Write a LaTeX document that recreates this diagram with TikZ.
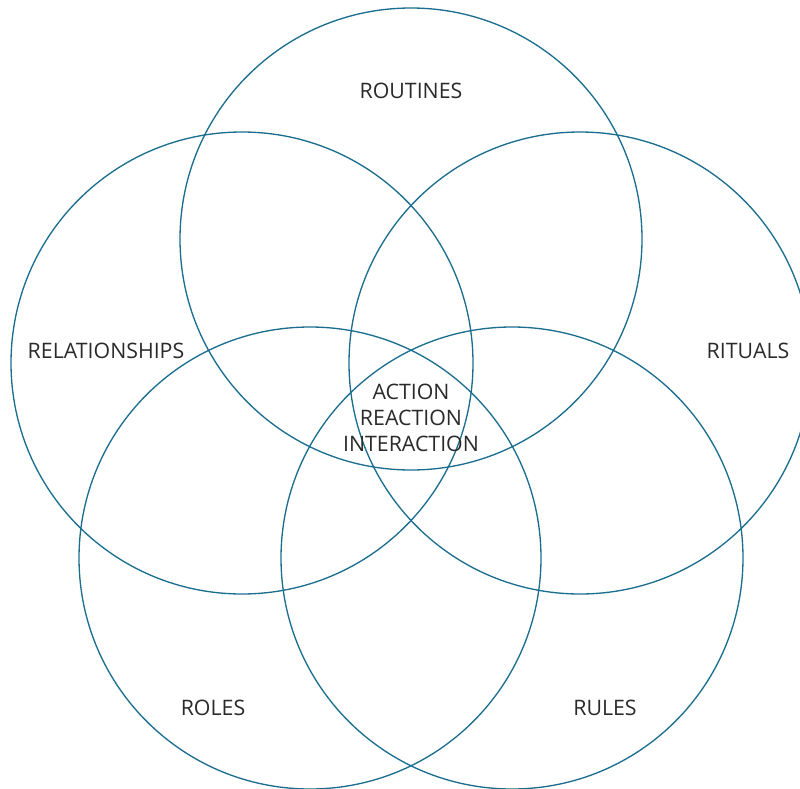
\documentclass[tikz,border=0pt]{standalone}
\usepackage{fontspec}
\setmainfont{Open Sans}
\definecolor{ringblue}{HTML}{1B6E8F}
\definecolor{labelgray}{HTML}{2A2A2A}
\begin{document}
\begin{tikzpicture}[x=0.75pt,y=-0.75pt,
  ring/.style={draw=ringblue,line width=1pt},
  lbl/.style={text=labelgray,font=\fontsize{16}{19.5}\selectfont,align=center,inner sep=0pt}]
\useasboundingbox (0,0) rectangle (800,789);
\clip (0,0) rectangle (800,789);
% five overlapping rings
\draw[ring] (411,239) circle[radius=231];
\draw[ring] (242,363) circle[radius=231];
\draw[ring] (580,363) circle[radius=231];
\draw[ring] (310,558) circle[radius=231];
\draw[ring] (512,558) circle[radius=231];
% labels
\node[lbl] (routines) at (411,91) {ROUTINES};
\node[lbl] (relationships) at (106,351) {RELATIONSHIPS};
\node[lbl] (rituals) at (748,351) {RITUALS};
\node[lbl] (roles) at (213,708) {ROLES};
\node[lbl] (rules) at (605,708) {RULES};
\node[lbl] (core) at (411,418) {ACTION\\REACTION\\INTERACTION};
\end{tikzpicture}
\end{document}
